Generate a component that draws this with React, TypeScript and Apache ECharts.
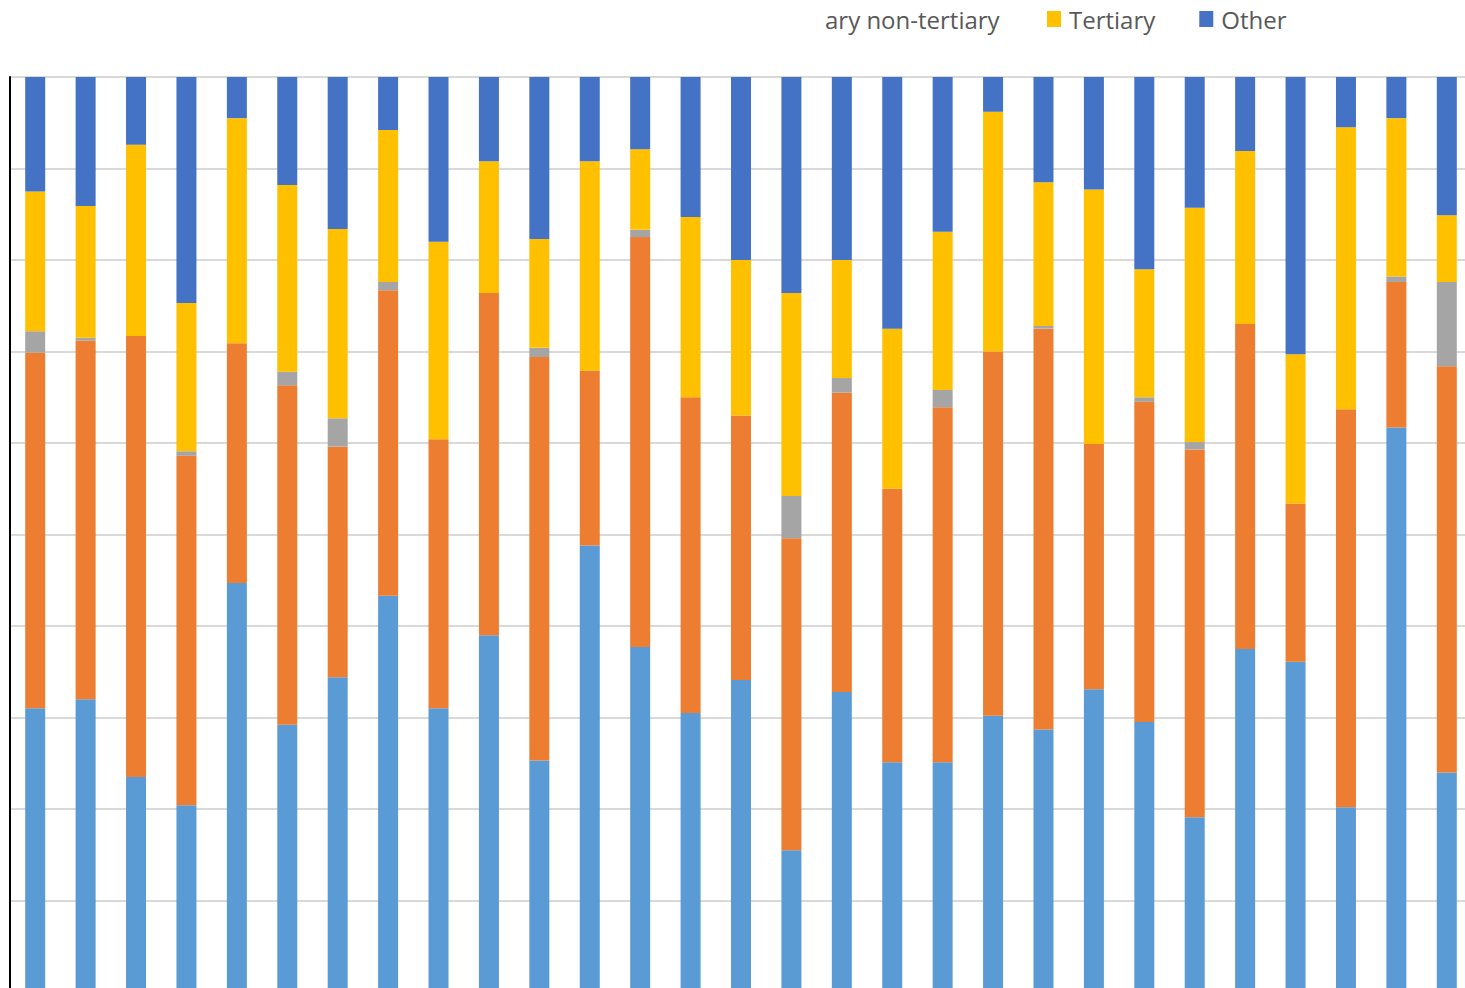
import React, { useEffect, useRef } from "react";
import * as echarts from "echarts";

// Shares (%) of each attainment group per bar, bottom to top.
const categories: string[] = [
  "1", "2", "3", "4", "5", "6", "7", "8", "9", "10",
  "11", "12", "13", "14", "15", "16", "17", "18", "19", "20",
  "21", "22", "23", "24", "25", "26", "27", "28", "29",
];

const belowUpperSecondary: number[] = [
  31.0, 32.0, 23.5, 20.4, 44.7, 29.2, 34.4, 43.3, 31.0, 39.0,
  25.3, 48.8, 37.7, 30.5, 34.1, 15.5, 32.8, 25.1, 25.1, 30.2,
  28.7, 33.1, 29.5, 19.1, 37.5, 36.1, 20.2, 61.7, 24.0,
];

const upperSecondary: number[] = [
  38.9, 39.2, 48.2, 38.2, 26.2, 37.1, 25.2, 33.4, 29.4, 37.4,
  44.1, 19.1, 44.8, 34.5, 28.9, 34.1, 32.7, 29.9, 38.8, 39.8,
  43.8, 26.8, 35.0, 40.2, 35.5, 17.3, 43.5, 15.9, 44.4,
];

const postSecondaryNonTertiary: number[] = [
  2.3, 0.3, 0, 0.5, 0, 1.5, 3.1, 0.9, 0, 0,
  1.0, 0, 0.8, 0, 0, 4.6, 1.6, 0, 1.9, 0,
  0.3, 0, 0.5, 0.8, 0, 0, 0, 0.6, 9.2,
];

const tertiary: number[] = [
  15.3, 14.4, 20.9, 16.2, 24.6, 20.4, 20.7, 16.6, 21.6, 14.4,
  11.9, 22.9, 8.8, 19.7, 17.0, 22.2, 12.9, 17.5, 17.3, 26.2,
  15.7, 27.8, 14.0, 25.6, 18.9, 16.3, 30.8, 17.3, 7.3,
];

const other: number[] = [
  12.5, 14.1, 7.4, 24.7, 4.5, 11.8, 16.6, 5.8, 18.0, 9.2,
  17.7, 9.2, 7.9, 15.3, 20.0, 23.6, 20.0, 27.5, 16.9, 3.8,
  11.5, 12.3, 21.0, 14.3, 8.1, 30.3, 5.5, 4.5, 15.1,
];

const seriesNames = [
  "Below upper secondary",
  "Upper secondary",
  "Post-secondary non-tertiary",
  "Tertiary",
  "Other",
];
const seriesColors = ["#5B9BD5", "#ED7D31", "#A5A5A5", "#FFC000", "#4472C4"];
const seriesData = [
  belowUpperSecondary,
  upperSecondary,
  postSecondaryNonTertiary,
  tertiary,
  other,
];

const FONT = "'Open Sans', 'Noto Sans', sans-serif";

export default function App() {
  const ref = useRef<HTMLDivElement>(null);

  useEffect(() => {
    if (!ref.current) return;
    const chart = echarts.init(ref.current, undefined, { renderer: "svg" });

    chart.setOption({
      animation: false,
      backgroundColor: "#ffffff",
      // the plot runs slightly past the bottom and right edges of the window
      grid: { left: 10, right: 0, top: 77, bottom: 0, containLabel: false },
      legend: {
        data: ["Tertiary", "Other"],
        left: 1047,
        top: 7,
        padding: 0,
        itemWidth: 14,
        itemHeight: 16,
        itemGap: 44,
        icon: "rect",
        textStyle: {
          color: "#595959",
          fontSize: 24,
          fontFamily: FONT,
          padding: [0, 0, 0, 3],
        },
      },
      graphic: [
        {
          type: "text",
          x: 825,
          y: 19,
          style: {
            text: "ary non-tertiary",
            fill: "#595959",
            fontSize: 24,
            fontFamily: FONT,
            verticalAlign: "middle",
          },
        },
      ],
      xAxis: {
        type: "category",
        data: categories,
        axisLine: { show: false },
        axisTick: { show: false },
        axisLabel: { show: false },
      },
      yAxis: {
        type: "value",
        min: 0,
        max: 100,
        interval: 10,
        axisLine: { show: true, lineStyle: { color: "#000000", width: 2 } },
        axisTick: { show: false },
        axisLabel: { show: false },
        splitLine: { lineStyle: { color: "#D9D9D9", width: 2 } },
      },
      series: seriesNames.map((name, i) => ({
        name,
        type: "bar",
        stack: "total",
        barWidth: 20,
        data: seriesData[i],
        itemStyle: { color: seriesColors[i] },
      })),
    });

    return () => chart.dispose();
  }, []);

  return (
    <div
      ref={ref}
      style={{ position: "fixed", left: 0, top: 0, width: 1472, height: 992 }}
    />
  );
}
